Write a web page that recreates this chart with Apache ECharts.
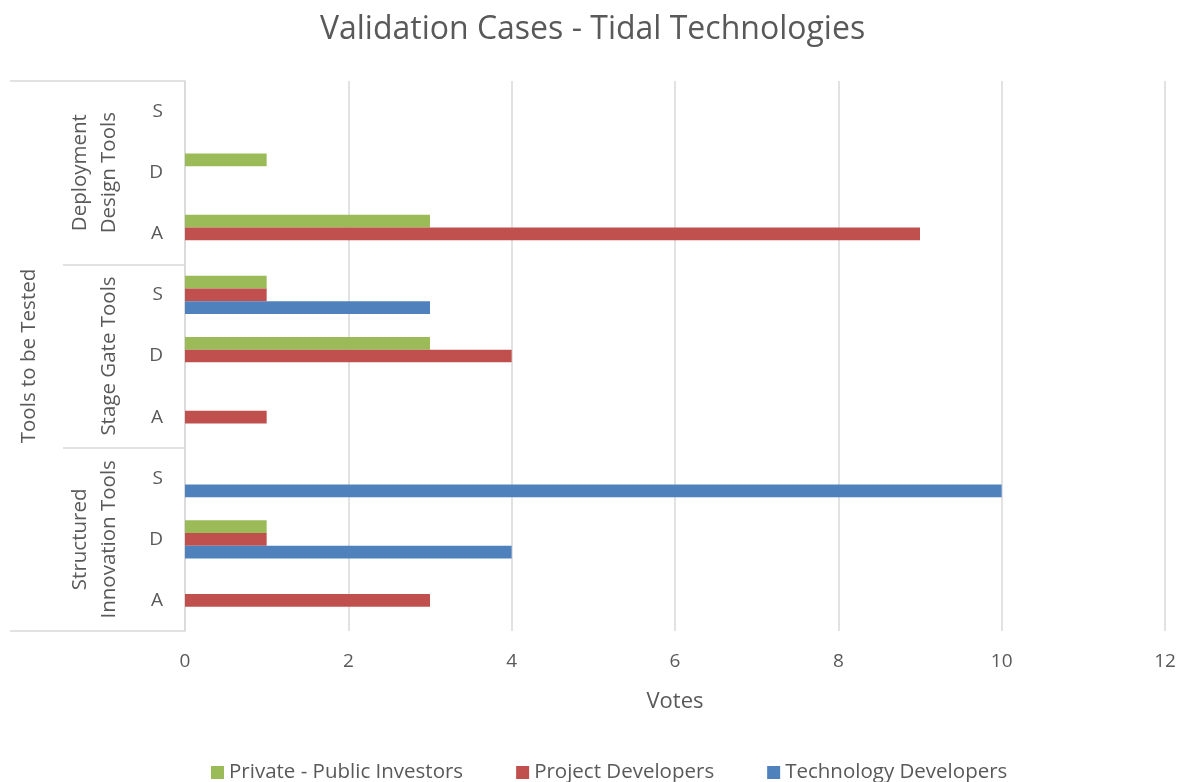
<!DOCTYPE html>
<html>
<head>
<meta charset="utf-8">
<title>Validation Cases - Tidal Technologies</title>
<script src="https://cdn.jsdelivr.net/npm/echarts@6/dist/echarts.min.js"></script>
<style>
  html, body { margin: 0; padding: 0; background: #fff; }
  #main { width: 1185px; height: 782px; }
</style>
</head>
<body>
<div id="main"></div>
<script>
// categories, bottom to top
var stageLabels = ['A', 'D', 'S', 'A', 'D', 'S', 'A', 'D', 'S'];
var toolGroups = ['Structured\nInnovation Tools', 'Stage Gate Tools', 'Deployment\nDesign Tools'];
var outerGroup = ['Tools to be Tested'];

// votes per series, same order as stageLabels
var techDevelopers = [0, 4, 10, 0, 0, 3, 0, 0, 0];
var projectDevelopers = [3, 1, 0, 1, 4, 1, 9, 0, 0];
var privateInvestors = [0, 1, 0, 0, 3, 1, 3, 1, 0];

var legendOrder = ['Private - Public Investors', 'Project Developers', 'Technology Developers'];

var font = 'Open Sans';
var textColor = '#595959';
var lineColor = '#d9d9d9';

var myChart = echarts.init(document.getElementById('main'));

function barSeries(name, data, color) {
    return {
        name: name,
        type: 'bar',
        yAxisIndex: 0,
        barWidth: 12.7,
        barGap: '0%',
        data: data,
        itemStyle: { color: color }
    };
}

var option = {
    animation: false,
    textStyle: { fontFamily: font },
    title: {
        text: 'Validation Cases - Tidal Technologies',
        left: 'center',
        top: 9,
        textStyle: { fontFamily: font, fontSize: 32, fontWeight: 'normal', color: textColor }
    },
    legend: {
        data: legendOrder,
        top: 757,
        left: 206,
        icon: 'rect',
        itemWidth: 13,
        itemHeight: 13,
        itemGap: 53,
        textStyle: { fontFamily: font, fontSize: 20.5, color: textColor }
    },
    grid: { left: 185, right: 20, top: 81, bottom: 151, containLabel: false },
    xAxis: {
        type: 'value',
        min: 0,
        max: 12,
        interval: 2,
        name: 'Votes',
        nameLocation: 'middle',
        nameGap: 60,
        nameTextStyle: { fontFamily: font, fontSize: 22, color: textColor },
        axisLine: { show: false },
        axisTick: { show: false },
        axisLabel: { fontFamily: font, fontSize: 19, color: textColor, margin: 21 },
        splitLine: { lineStyle: { color: lineColor, width: 1.5 } }
    },
    yAxis: [
        {
            type: 'category',
            data: stageLabels,
            position: 'left',
            axisLine: { show: true, lineStyle: { color: lineColor, width: 1.5 } },
            axisTick: { show: false },
            axisLabel: { fontFamily: font, fontSize: 19, color: textColor, margin: 22, interval: 0 }
        },
        {
            type: 'category',
            data: toolGroups,
            position: 'left',
            axisLine: { show: false },
            axisTick: { show: true, length: 122, interval: 0, lineStyle: { color: lineColor, width: 1.5 } },
            axisLabel: {
                fontFamily: font, fontSize: 20.5, color: textColor, rotate: 90,
                margin: 61, interval: 0, lineHeight: 29, align: 'center', verticalAlign: 'bottom'
            }
        },
        {
            type: 'category',
            data: outerGroup,
            position: 'left',
            axisLine: { show: false },
            axisTick: { show: true, length: 175, interval: 0, lineStyle: { color: lineColor, width: 1.5 } },
            axisLabel: {
                fontFamily: font, fontSize: 20.5, color: textColor, rotate: 90,
                margin: 145, interval: 0, align: 'center', verticalAlign: 'bottom'
            }
        }
    ],
    series: [
        barSeries('Private - Public Investors', privateInvestors, '#9bbb59'),
        barSeries('Project Developers', projectDevelopers, '#c0504d'),
        barSeries('Technology Developers', techDevelopers, '#4f81bd')
    ]
};

myChart.setOption(option);
</script>
</body>
</html>
